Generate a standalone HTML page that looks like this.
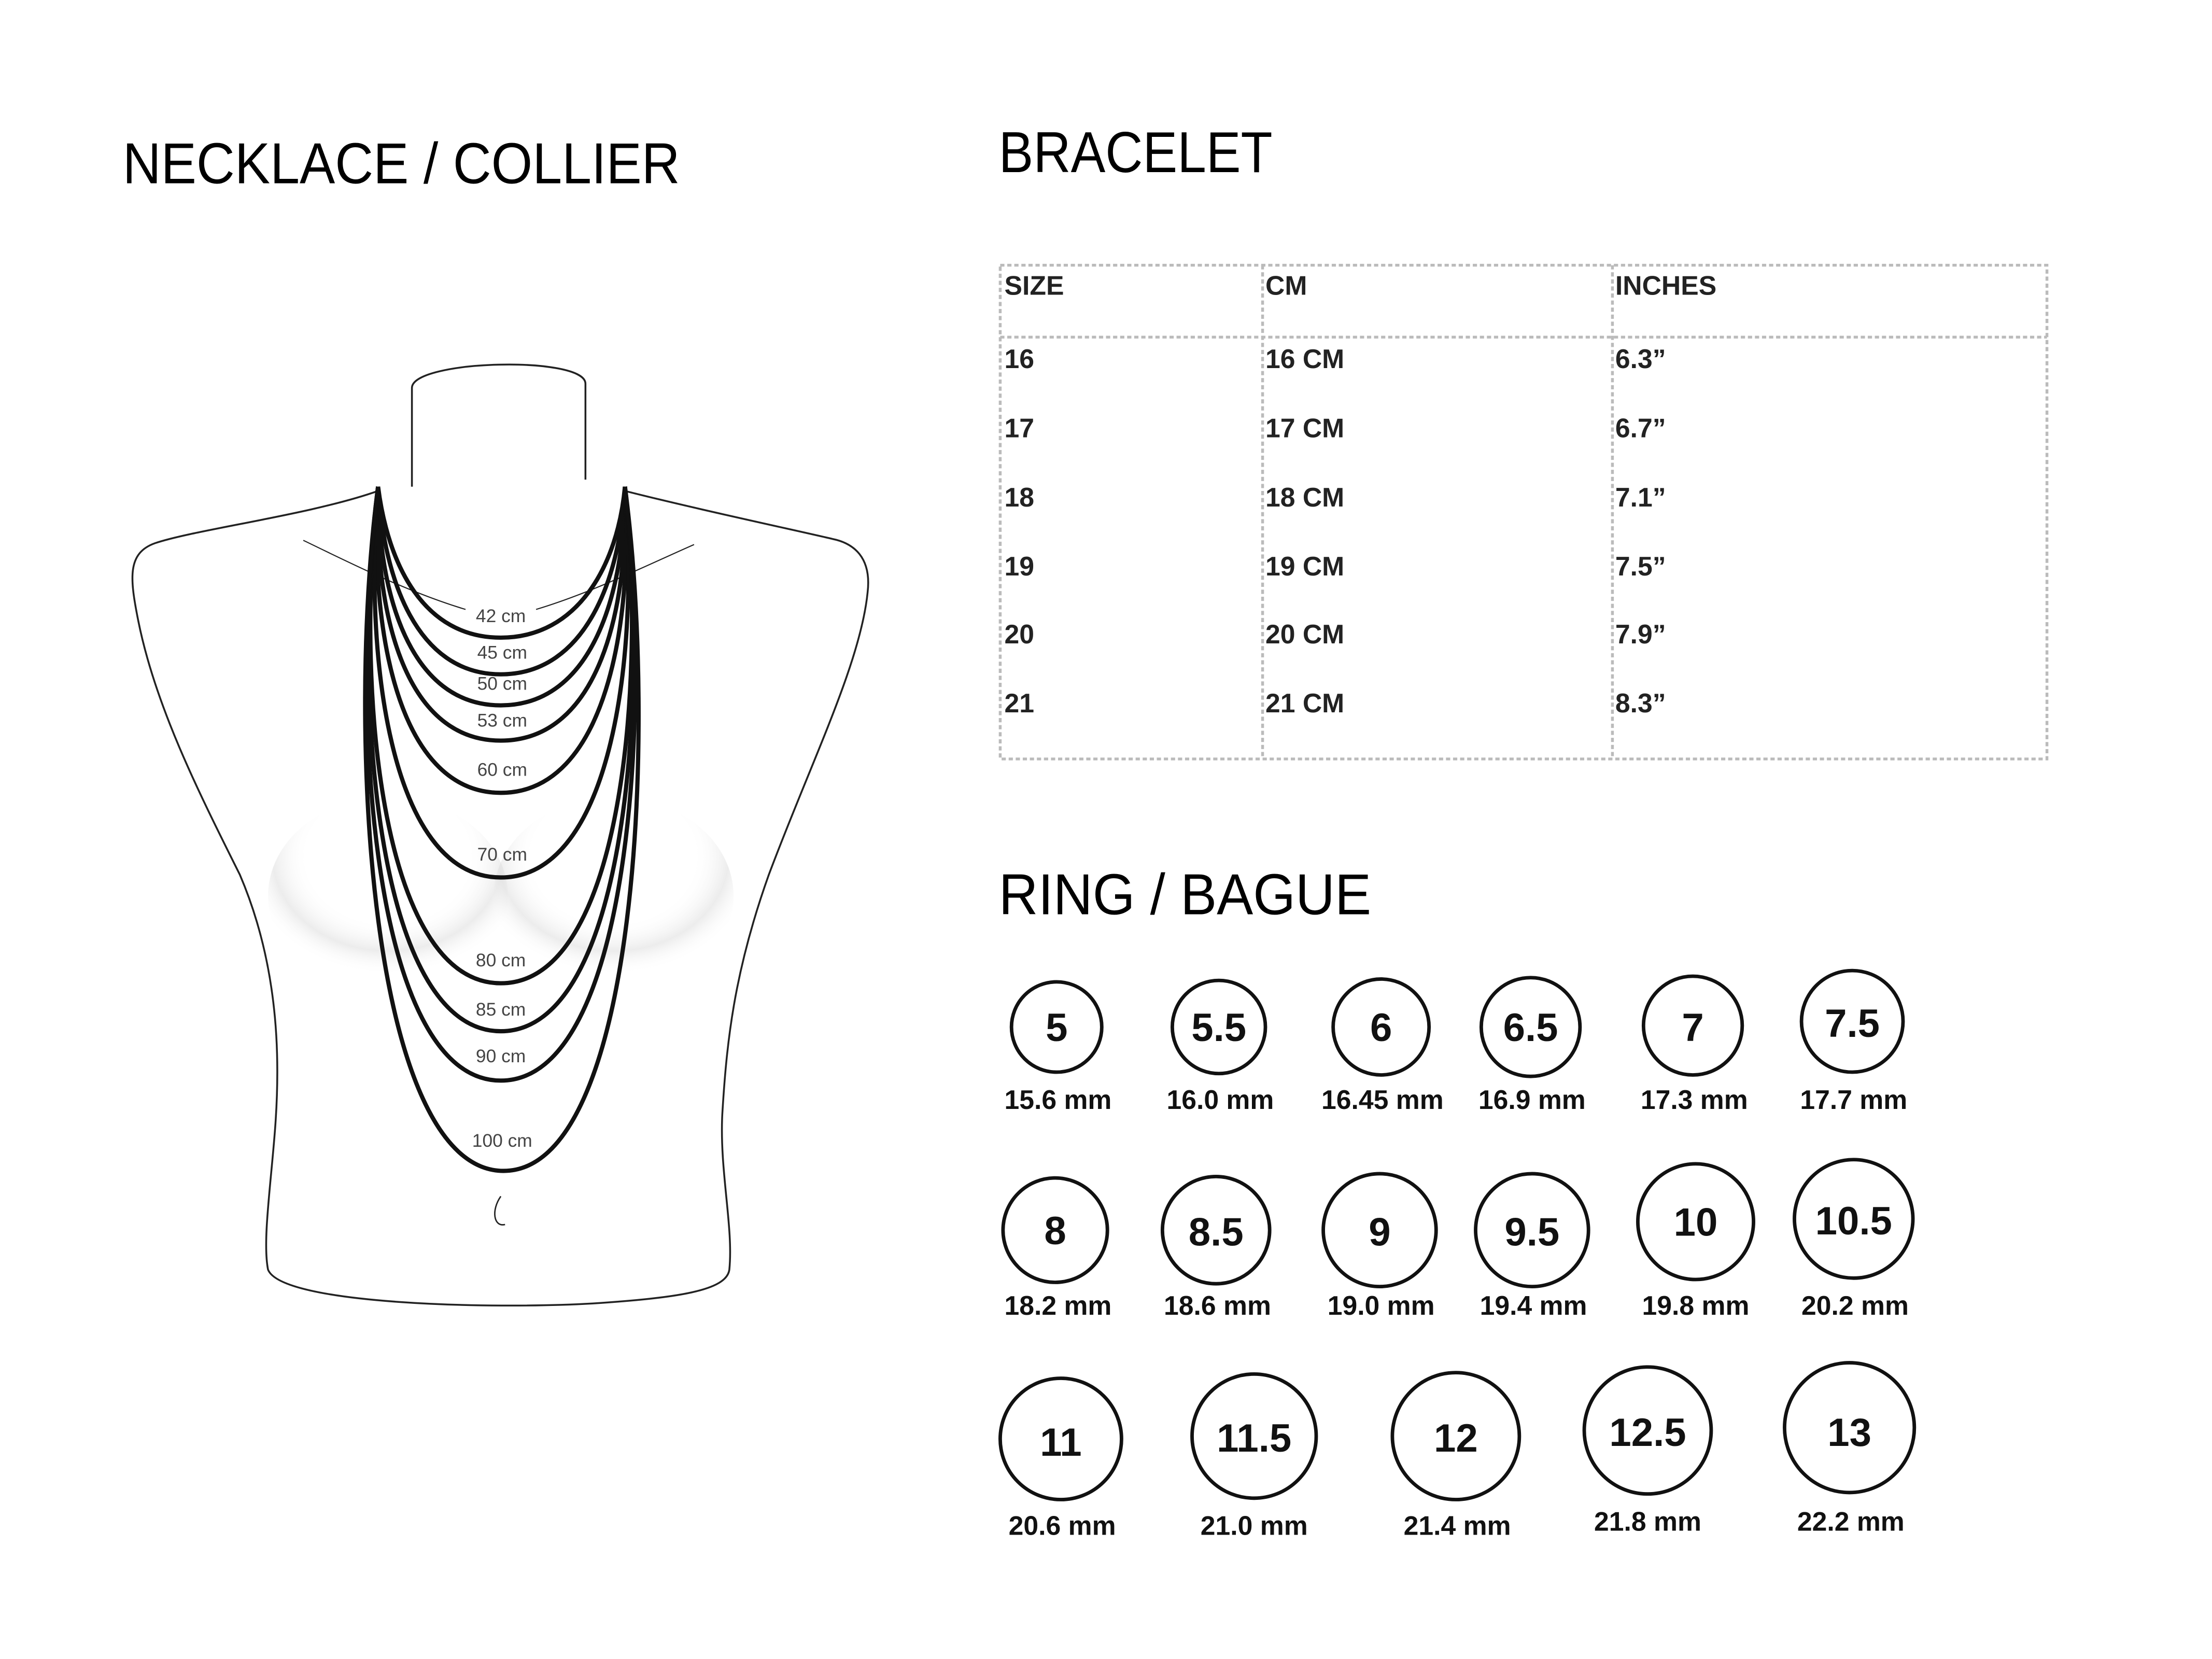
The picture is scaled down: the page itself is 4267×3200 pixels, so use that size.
<!DOCTYPE html>
<html><head><meta charset="utf-8"><style>html,body{margin:0;padding:0;background:#fff}svg{display:block}</style></head>
<body>
<svg width="4267" height="3200" viewBox="0 0 1568 1176" preserveAspectRatio="none" xmlns="http://www.w3.org/2000/svg" font-family="Liberation Sans, sans-serif">
<rect width="1568" height="1176" fill="#fff"/>
<defs><radialGradient id="sh" cx="0.5" cy="0.3" r="0.6"><stop offset="0.55" stop-color="#fff" stop-opacity="0"/><stop offset="0.8" stop-color="#ddd"/><stop offset="1" stop-color="#fff" stop-opacity="0"/></radialGradient></defs>
<text x="87" y="130" font-size="41" textLength="395" lengthAdjust="spacingAndGlyphs">NECKLACE / COLLIER</text>
<text x="708" y="122" font-size="41" textLength="194" lengthAdjust="spacingAndGlyphs">BRACELET</text>
<text x="708" y="648" font-size="41" textLength="264" lengthAdjust="spacingAndGlyphs">RING / BAGUE</text>

<ellipse cx="275" cy="635" rx="85" ry="70" fill="url(#sh)" opacity="0.55"/>
<ellipse cx="435" cy="635" rx="85" ry="70" fill="url(#sh)" opacity="0.55"/>
<!-- torso -->
<g fill="none" stroke="#222" stroke-width="1.3">
<path d="M292,345 L292,275 C292,255 415,252 415,272 L415,340"/>
<path d="M268,348 C220,365 140,375 110,385 C90,392 92,410 98,440 C110,500 140,560 170,620 C200,690 198,760 195,800 C192,840 186,880 190,900 C200,925 350,928 420,924 C480,920 515,915 517,900 C520,870 510,830 512,790 C515,740 520,690 545,620 C575,540 610,470 615,420 C618,395 605,385 590,382 C560,375 490,360 443,348"/>
<path d="M215,383 C250,400 290,420 330,432" stroke-width="0.8"/>
<path d="M492,386 C460,400 420,420 380,432" stroke-width="0.8"/>
<path d="M355,848 C348,858 350,870 358,868" stroke-width="1"/>
</g>

<!-- necklaces -->
<g fill="none" stroke="#111" stroke-width="3">
<path d="M268,345 C275,400 300,452 355,452 C410,452 438,400 443,345"/>
<path d="M268,345 C272,410 295,478 355,478 C415,478 440,410 443,345"/>
<path d="M268,345 C268,420 290,500 355,500 C420,500 443,420 443,345"/>
<path d="M268,345 C265,430 285,525 355,525 C425,525 446,430 443,345"/>
<path d="M268,345 C262,440 280,562 355,562 C430,562 449,440 443,345"/>
<path d="M268,345 C258,460 275,622 355,622 C435,622 453,460 443,345"/>
<path d="M268,345 C252,480 268,697 355,697 C442,697 458,480 443,345"/>
<path d="M268,345 C250,490 265,731 355,731 C445,731 460,490 443,345"/>
<path d="M268,345 C248,500 262,766 355,766 C448,766 462,500 443,345"/>
<path d="M268,345 C245,520 262,830 357,830 C452,830 466,520 443,345"/>
</g>
<g font-size="13" fill="#444" text-anchor="middle">
<text x="355" y="441">42 cm</text><text x="356" y="467">45 cm</text><text x="356" y="489">50 cm</text>
<text x="356" y="515">53 cm</text><text x="356" y="550">60 cm</text><text x="356" y="610">70 cm</text>
<text x="355" y="685">80 cm</text><text x="355" y="720">85 cm</text><text x="355" y="753">90 cm</text>
<text x="356" y="813">100 cm</text>
</g>

<!-- table -->
<g fill="none" stroke="#bbb" stroke-width="2" stroke-dasharray="3,2">
<rect x="709" y="188" width="742" height="350"/>
<line x1="709" y1="239" x2="1451" y2="239"/>
<line x1="895" y1="188" x2="895" y2="538"/>
<line x1="1143" y1="188" x2="1143" y2="538"/>
</g>
<g font-size="19" font-weight="bold" fill="#222">
<text x="712" y="209">SIZE</text><text x="897" y="209">CM</text><text x="1145" y="209">INCHES</text>
<text x="712" y="261">16</text><text x="897" y="261">16 CM</text><text x="1145" y="261">6.3”</text>
<text x="712" y="310">17</text><text x="897" y="310">17 CM</text><text x="1145" y="310">6.7”</text>
<text x="712" y="359">18</text><text x="897" y="359">18 CM</text><text x="1145" y="359">7.1”</text>
<text x="712" y="408">19</text><text x="897" y="408">19 CM</text><text x="1145" y="408">7.5”</text>
<text x="712" y="456">20</text><text x="897" y="456">20 CM</text><text x="1145" y="456">7.9”</text>
<text x="712" y="505">21</text><text x="897" y="505">21 CM</text><text x="1145" y="505">8.3”</text>
</g>

<!-- rings -->
<g fill="none" stroke="#111" stroke-width="2.5">
<circle cx="749" cy="728" r="32"/><circle cx="864" cy="728" r="33"/><circle cx="979" cy="728" r="34"/>
<circle cx="1085" cy="728" r="35"/><circle cx="1200" cy="727" r="35"/><circle cx="1313" cy="724" r="36"/>
<circle cx="748" cy="872" r="37"/><circle cx="862" cy="872" r="38"/><circle cx="978" cy="872" r="40"/>
<circle cx="1086" cy="872" r="40"/><circle cx="1202" cy="866" r="41"/><circle cx="1314" cy="864" r="42"/>
<circle cx="752" cy="1020" r="43"/><circle cx="889" cy="1018" r="44"/><circle cx="1032" cy="1018" r="45"/>
<circle cx="1168" cy="1014" r="45"/><circle cx="1311" cy="1012" r="46"/>
</g>
<g font-size="28" font-weight="bold" fill="#111" text-anchor="middle">
<text x="749" y="738">5</text><text x="864" y="738">5.5</text><text x="979" y="738">6</text>
<text x="1085" y="738">6.5</text><text x="1200" y="738">7</text><text x="1313" y="735">7.5</text>
<text x="748" y="882">8</text><text x="862" y="883">8.5</text><text x="978" y="883">9</text>
<text x="1086" y="883">9.5</text><text x="1202" y="876">10</text><text x="1314" y="875">10.5</text>
<text x="752" y="1032">11</text><text x="889" y="1029">11.5</text><text x="1032" y="1029">12</text>
<text x="1168" y="1025">12.5</text><text x="1311" y="1025">13</text>
</g>
<g font-size="19" font-weight="bold" fill="#111" text-anchor="middle">
<text x="750" y="786">15.6 mm</text><text x="865" y="786">16.0 mm</text><text x="980" y="786">16.45 mm</text>
<text x="1086" y="786">16.9 mm</text><text x="1201" y="786">17.3 mm</text><text x="1314" y="786">17.7 mm</text>
<text x="750" y="932">18.2 mm</text><text x="863" y="932">18.6 mm</text><text x="979" y="932">19.0 mm</text>
<text x="1087" y="932">19.4 mm</text><text x="1202" y="932">19.8 mm</text><text x="1315" y="932">20.2 mm</text>
<text x="753" y="1088">20.6 mm</text><text x="889" y="1088">21.0 mm</text><text x="1033" y="1088">21.4 mm</text>
<text x="1168" y="1085">21.8 mm</text><text x="1312" y="1085">22.2 mm</text>
</g>
</svg>
</body></html>
